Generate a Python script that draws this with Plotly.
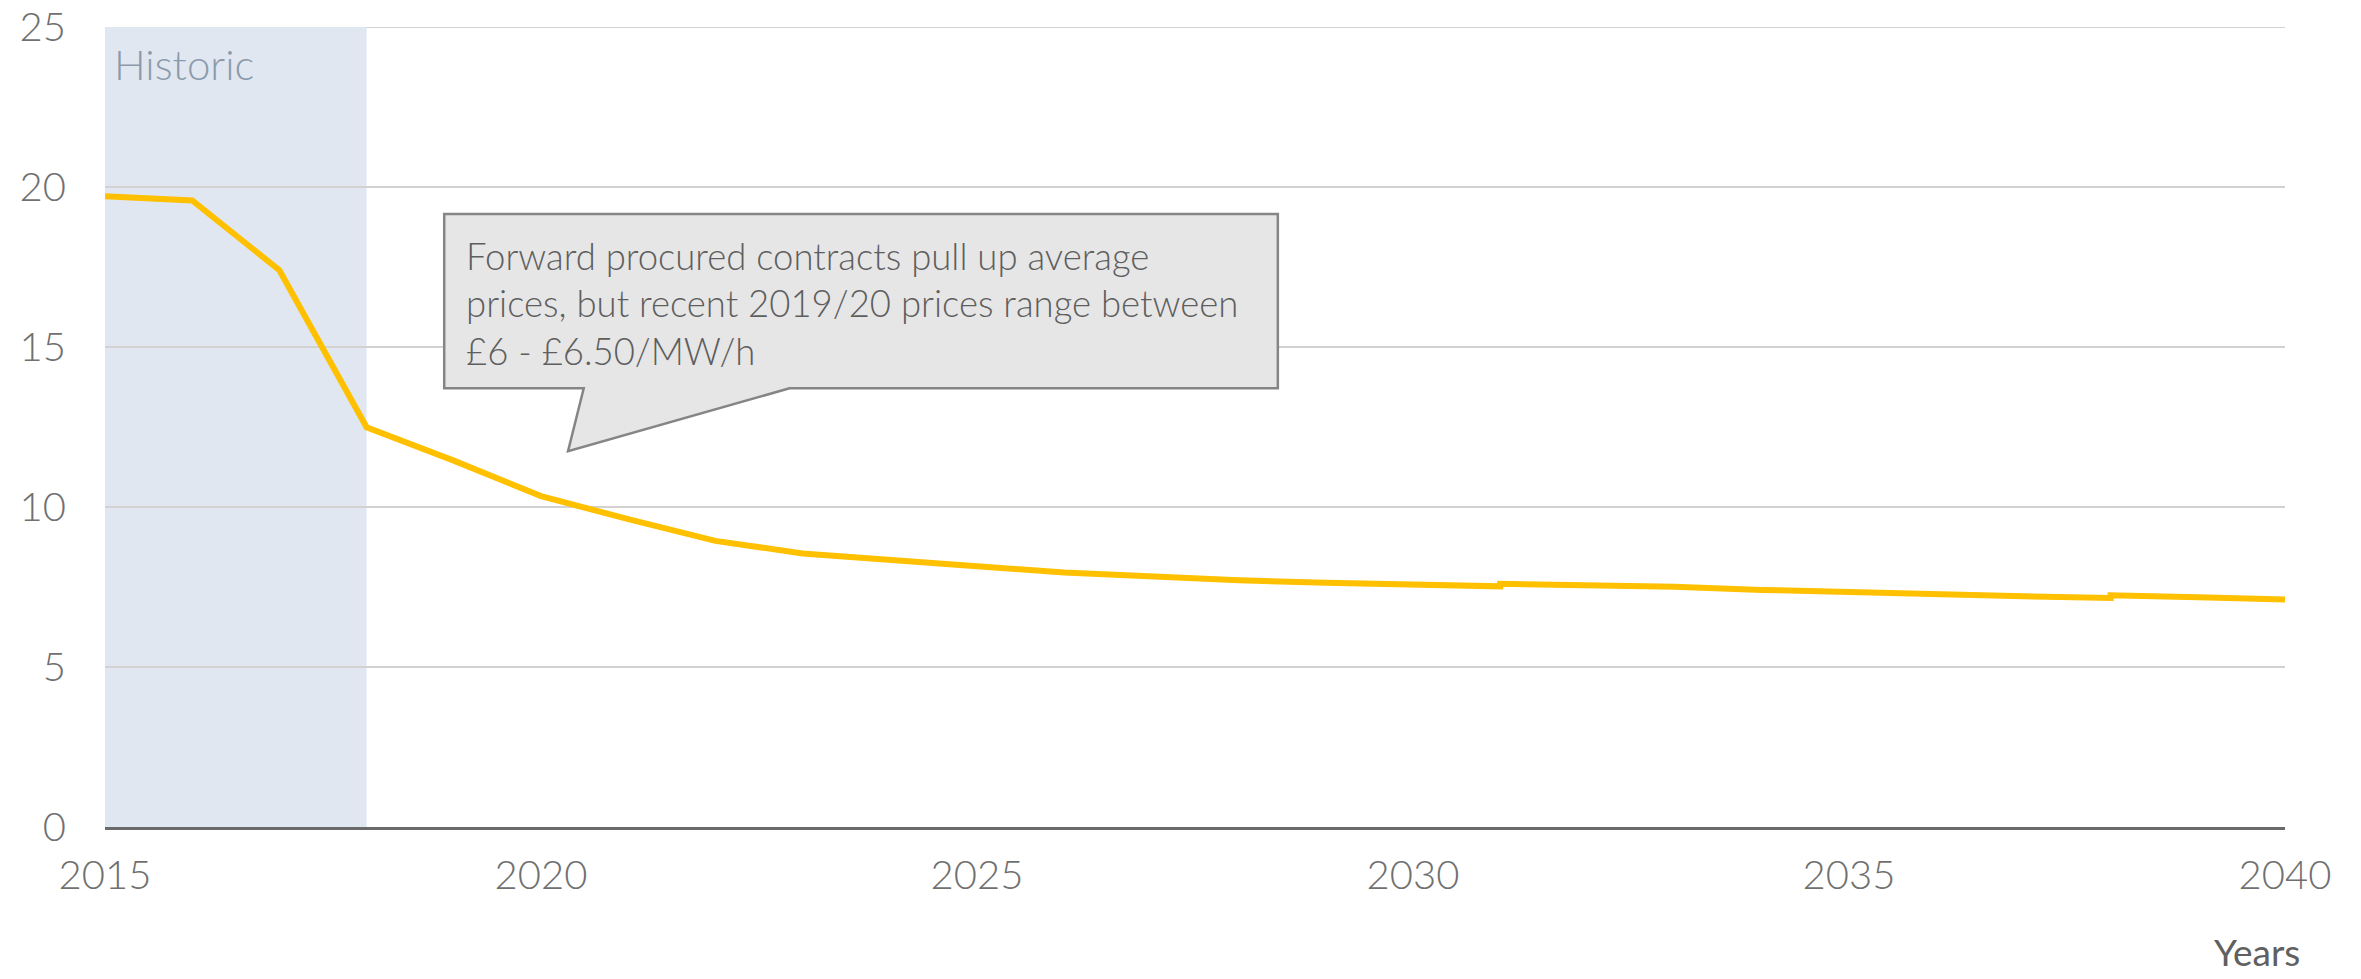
import plotly.graph_objects as go

# Data
years = [2015, 2016, 2017, 2018, 2019, 2020, 2021, 2022, 2023, 2024, 2025, 2026, 2027,
         2028, 2029, 2030, 2031, 2031, 2032, 2033, 2034, 2035, 2036, 2037, 2038, 2038,
         2039, 2040]
price = [19.71, 19.58, 17.40, 12.49, 11.45, 10.34, 9.62, 8.94, 8.55, 8.33, 8.15, 7.95, 7.82,
         7.71, 7.63, 7.58, 7.52, 7.60, 7.56, 7.51, 7.41, 7.34, 7.25, 7.21, 7.16, 7.24,
         7.18, 7.11]
x_ticks = [2015, 2020, 2025, 2030, 2035, 2040]
y_ticks = [0, 5, 10, 15, 20, 25]
y_max = 25
historic_span = (2015, 2018)
callout_text = ("Forward procured contracts pull up average<br>"
                "prices, but recent 2019/20 prices range between<br>"
                "£6 - £6.50/MW/h")

FONT = "Lato"
TICK_COLOR = "#707070"
GRID_COLOR = "#d2d2d2"

fig = go.Figure()

# Historic shaded band
fig.add_shape(type="rect", xref="x", yref="y",
              x0=historic_span[0], x1=historic_span[1], y0=0, y1=y_max,
              fillcolor="#e0e7f1", line=dict(width=0), layer="below")

# Top gridline (Plotly skips gridlines at the range edge)
fig.add_shape(type="line", xref="paper", yref="y", x0=0, x1=1, y0=y_max, y1=y_max,
              line=dict(color=GRID_COLOR, width=2), layer="below")

fig.add_trace(go.Scatter(x=years, y=price, mode="lines",
                         line=dict(color="#FFC000", width=6),
                         hoverinfo="skip", showlegend=False))

# Callout box (speech bubble) in data coordinates
bx0, bx1, by0, by1 = 2018.89, 2028.45, 13.71, 19.16
p_left, p_right, tip_x, tip_y = 2020.49, 2022.85, 2020.31, 11.74
path = (f"M {bx0},{by1} L {bx1},{by1} L {bx1},{by0} L {p_right},{by0} "
        f"L {tip_x},{tip_y} L {p_left},{by0} L {bx0},{by0} Z")
fig.add_shape(type="path", path=path, xref="x", yref="y",
              fillcolor="#e6e6e6", line=dict(color="#858585", width=2.5), layer="above")

fig.add_annotation(x=2019.12, y=18.6, xref="x", yref="y", xanchor="left", yanchor="top",
                   text=callout_text, showarrow=False, align="left",
                   font=dict(family=FONT, size=36.5, color="#5e5e5e", weight=300))

fig.add_annotation(x=2015.08, y=23.85, xref="x", yref="y", xanchor="left", yanchor="middle",
                   text="Historic", showarrow=False,
                   font=dict(family=FONT, size=42, color="#8b9aab", weight=300))

fig.add_annotation(x=(2302 - 105) / 2180, y=-0.156, xref="paper", yref="paper",
                   xanchor="right", yanchor="middle", text="Years", showarrow=False,
                   font=dict(family=FONT, size=37, color="#606060"))

fig.update_layout(
    width=2361, height=979,
    margin=dict(l=105, r=76, t=27, b=152, autoexpand=False),
    paper_bgcolor="white", plot_bgcolor="white",
    font=dict(family=FONT, color=TICK_COLOR),
    xaxis=dict(range=[2015, 2040], tickvals=x_ticks, ticktext=[str(v) for v in x_ticks],
               showgrid=False, zeroline=False, showline=True, linecolor="#6a6a6a",
               linewidth=3, ticks="", ticklabelstandoff=11, ticklabeloverflow="allow",
               automargin=False,
               tickfont=dict(family=FONT, size=40, color=TICK_COLOR, weight=300)),
    yaxis=dict(range=[0, y_max], tickvals=y_ticks, showgrid=True, gridcolor=GRID_COLOR,
               gridwidth=2, zeroline=False, showline=False, ticks="",
               ticklabelstandoff=38, ticklabeloverflow="allow", automargin=False,
               tickfont=dict(family=FONT, size=40, color=TICK_COLOR, weight=300)),
)

fig.write_html("out.html")
